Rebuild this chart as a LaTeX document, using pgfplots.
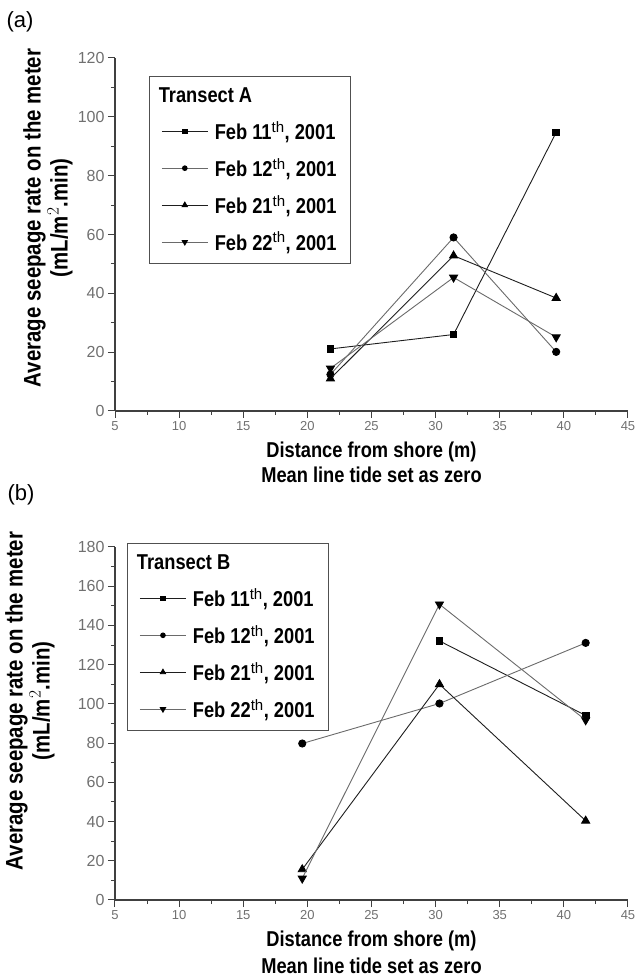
\documentclass[border=0pt]{standalone}
\usepackage{pgfplots}
\pgfplotsset{compat=1.18}
\usepackage{fontspec}
\setmainfont{Liberation Sans}
\newfontfamily\condfont[FakeStretch=0.85]{Liberation Sans}
\definecolor{tickgray}{HTML}{707070}
\definecolor{axgray}{HTML}{404040}
\definecolor{lineA}{HTML}{1E1E1E}
\definecolor{lineB}{HTML}{6A6A6A}
\definecolor{boxgray}{HTML}{505050}

\pgfplotsset{
  panel/.style={
    scale only axis, width=513pt, height=353pt,
    anchor=south west, clip mode=individual,
    xmin=5, xmax=45, ymin=0,
    axis x line*=bottom, axis y line*=left,
    axis line style={axgray, line width=1.2pt, -},
    xtick={5,10,...,45}, minor x tick num=1,
    minor y tick num=1,
    xtick align=outside, ytick align=outside,
    major tick length=7pt, minor tick length=4pt,
    every tick/.append style={axgray, line width=1pt},
    /pgf/number format/assume math mode=true,
    xticklabel style={font=\fontsize{13}{13}\selectfont, text=tickgray},
    yticklabel style={font=\fontsize{16}{16}\selectfont, text=tickgray},
    xlabel style={at={(rel axis cs:0.5,0)}, anchor=center, yshift=-41pt,
                  font=\condfont\bfseries\fontsize{21.5}{22}\selectfont},
    ylabel style={anchor=center,
                  align=center, font=\condfont\bfseries\fontsize{24}{27}\selectfont},
    legend style={anchor=north west, draw=boxgray, line width=1pt,
                  fill=white, inner xsep=12pt, inner ysep=10pt,
                  row sep=14pt,
                  font=\condfont\bfseries\fontsize{21.5}{22}\selectfont,
                  nodes={inner sep=1.5pt},
                  /tikz/every odd column/.append style={column sep=5pt}},
    legend cell align=left,
    legend image code/.code={%
      \draw[mark repeat=2,mark phase=2,#1,every mark/.append style={scale=0.65}]
        plot coordinates {(0pt,0pt) (23pt,0pt) (46pt,0pt)};},
    s1/.style={lineA, line width=0.9pt, mark=square*, mark size=3.3pt, mark options={fill=black,draw=black,solid}},
    s2/.style={lineB, line width=0.9pt, mark=*, mark size=3.6pt, mark options={fill=black,draw=black,solid}},
    s3/.style={lineA, line width=0.9pt, mark=triangle*, mark size=4.6pt, mark options={fill=black,draw=black,solid}},
    s4/.style={lineB, line width=0.9pt, mark=triangle*, mark size=4.6pt, mark options={fill=black,draw=black,solid,rotate=180}},
  }
}

\begin{document}
\begin{tikzpicture}[x=1pt,y=1pt]
\path[use as bounding box] (0pt,0pt) rectangle (635pt,978pt);

\node[font=\fontsize{22}{22}\selectfont] at (20pt,956pt) {(a)};
\node[font=\fontsize{22}{22}\selectfont] at (21pt,483pt) {(b)};

% ---------------- panel (a) ----------------
\begin{axis}[panel, at={(115pt,567pt)},
  ymax=120, ytick={0,20,...,120},
  xlabel={Distance from shore (m)},
  ylabel={Average seepage rate on the meter\\(mL/m$^{2}$.min)},
  ylabel style={at={(rel axis cs:0,0.547)}, yshift=67pt},
  legend style={at={(0.066,0.949)}},
]
\addlegendimage{empty legend}
\addlegendentry{\hspace*{-56pt}Transect A}
\addplot[s1] coordinates {(21.8,21.1) (31.4,26.0) (39.4,94.7)};
\addlegendentry{Feb 11$^{\mathrm{th}}$, 2001}
\addplot[s2] coordinates {(21.8,12.4) (31.4,59.0) (39.4,20.1)};
\addlegendentry{Feb 12$^{\mathrm{th}}$, 2001}
\addplot[s3] coordinates {(21.8,11.0) (31.4,52.8) (39.4,38.4)};
\addlegendentry{Feb 21$^{\mathrm{th}}$, 2001}
\addplot[s4] coordinates {(21.8,14.5) (31.4,45.4) (39.4,25.1)};
\addlegendentry{Feb 22$^{\mathrm{th}}$, 2001}
\node[font=\condfont\bfseries\fontsize{21.5}{22}\selectfont, anchor=center]
  at (rel axis cs:0.5,0) [yshift=-64pt] {Mean line tide set as zero};
\end{axis}

% ---------------- panel (b) ----------------
\begin{axis}[panel, at={(115pt,78pt)},
  ymax=180, ytick={0,20,...,180},
  xlabel={Distance from shore (m)},
  ylabel={Average seepage rate on the meter\\(mL/m$^{2}$.min)},
  ylabel style={at={(rel axis cs:0,0.564)}, yshift=85pt},
  legend style={at={(0.0234,1.011)}},
]
\addlegendimage{empty legend}
\addlegendentry{\hspace*{-56pt}Transect B}
\addplot[s1] coordinates {(30.3,132.1) (41.7,94.1)};
\addlegendentry{Feb 11$^{\mathrm{th}}$, 2001}
\addplot[s2] coordinates {(19.6,79.8) (30.3,100.2) (41.7,131.1)};
\addlegendentry{Feb 12$^{\mathrm{th}}$, 2001}
\addplot[s3] coordinates {(19.6,15.6) (30.3,110.0) (41.7,40.4)};
\addlegendentry{Feb 21$^{\mathrm{th}}$, 2001}
\addplot[s4] coordinates {(19.6,11.0) (30.3,150.8) (41.7,91.7)};
\addlegendentry{Feb 22$^{\mathrm{th}}$, 2001}
\node[font=\condfont\bfseries\fontsize{21.5}{22}\selectfont, anchor=center]
  at (rel axis cs:0.5,0) [yshift=-66pt] {Mean line tide set as zero};
\end{axis}
\end{tikzpicture}
\end{document}
